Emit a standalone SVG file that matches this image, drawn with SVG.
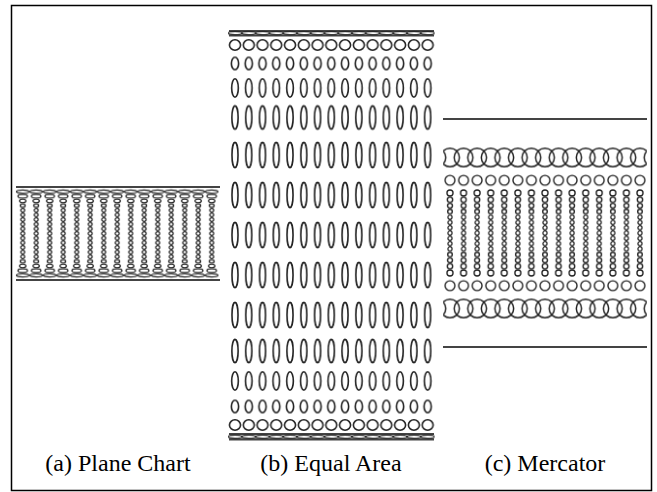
<svg xmlns="http://www.w3.org/2000/svg" width="657" height="492" viewBox="0 0 657 492">
<style>
.e{fill:none;stroke:#222}
.ea{stroke-width:1.2}
.eb{stroke-width:1.6}
.ec{stroke-width:1.35}
.ecb{stroke-width:1.5}
.ln{stroke:#444;stroke-width:2.2;fill:none}
.lbl{font-family:"Liberation Serif","Times New Roman","DejaVu Serif",serif;font-size:24px;text-anchor:middle;fill:#000}
</style>
<defs>
<!-- panel a -->
<pattern id="aS" patternUnits="userSpaceOnUse" x="15.95" y="207.925" width="13.5" height="4.65"><ellipse class="e ea" cx="6.75" cy="2.325" rx="2.0" ry="1.7"/></pattern>
<pattern id="a6" patternUnits="userSpaceOnUse" x="15.95" y="-5" width="13.5" height="10"><ellipse class="e ea" cx="6.75" cy="5" rx="2.5" ry="1.7"/></pattern>
<pattern id="a7" patternUnits="userSpaceOnUse" x="15.95" y="-5" width="13.5" height="10"><ellipse class="e ea" cx="6.75" cy="5" rx="3.2" ry="1.75"/></pattern>
<pattern id="a8" patternUnits="userSpaceOnUse" x="15.95" y="-5" width="13.5" height="10"><ellipse class="e ea" cx="6.75" cy="5" rx="4.8" ry="1.8"/></pattern>
<pattern id="a9" patternUnits="userSpaceOnUse" x="15.95" y="-5" width="13.5" height="10"><ellipse class="e ea" cx="6.75" cy="5" rx="6.3" ry="1.6"/><ellipse class="e ea" cx="-6.75" cy="5" rx="6.3" ry="1.6"/><ellipse class="e ea" cx="20.25" cy="5" rx="6.3" ry="1.6"/></pattern>
<!-- panel b -->
<pattern id="b0" patternUnits="userSpaceOnUse" x="228.12" y="135" width="13.76" height="40"><ellipse class="e eb" cx="6.88" cy="20" rx="3.0" ry="12.6"/></pattern>
<pattern id="b3" patternUnits="userSpaceOnUse" x="228.12" y="-15" width="13.76" height="30"><ellipse class="e eb" cx="6.88" cy="15" rx="3.1" ry="11.6"/></pattern>
<pattern id="b4" patternUnits="userSpaceOnUse" x="228.12" y="-15" width="13.76" height="30"><ellipse class="e eb" cx="6.88" cy="15" rx="3.3" ry="9.2"/></pattern>
<pattern id="b5" patternUnits="userSpaceOnUse" x="228.12" y="-15" width="13.76" height="30"><ellipse class="e eb" cx="6.88" cy="15" rx="3.6" ry="6.2"/></pattern>
<pattern id="b6" patternUnits="userSpaceOnUse" x="228.12" y="-15" width="13.76" height="30"><ellipse class="e eb" cx="6.88" cy="15" rx="5.5" ry="5.2"/></pattern>
<pattern id="b9" patternUnits="userSpaceOnUse" x="228.12" y="-5" width="13.76" height="10"><ellipse class="e ea" cx="6.88" cy="5" rx="6.8" ry="1.6"/><ellipse class="e ea" cx="-6.88" cy="5" rx="6.8" ry="1.6"/><ellipse class="e ea" cx="20.64" cy="5" rx="6.8" ry="1.6"/></pattern>
<!-- panel c -->
<pattern id="cS" patternUnits="userSpaceOnUse" x="443.215" y="214.45" width="13.57" height="5.3"><ellipse class="e ea" cx="6.785" cy="2.65" rx="2.05" ry="2.05"/></pattern>
<pattern id="c4" patternUnits="userSpaceOnUse" x="443.215" y="-6" width="13.57" height="12"><ellipse class="e ec" cx="6.785" cy="6" rx="2.3" ry="2.3"/></pattern>
<pattern id="c5" patternUnits="userSpaceOnUse" x="443.215" y="-6" width="13.57" height="12"><ellipse class="e ec" cx="6.785" cy="6" rx="2.45" ry="2.45"/></pattern>
<pattern id="c6" patternUnits="userSpaceOnUse" x="443.215" y="-6" width="13.57" height="12"><ellipse class="e ec" cx="6.785" cy="6" rx="2.65" ry="2.65"/></pattern>
<pattern id="c7" patternUnits="userSpaceOnUse" x="443.215" y="-6" width="13.57" height="12"><ellipse class="e ec" cx="6.785" cy="6" rx="3.0" ry="3.0"/></pattern>
<pattern id="c8" patternUnits="userSpaceOnUse" x="443.215" y="-8" width="13.57" height="16"><ellipse class="e ec" cx="6.785" cy="8" rx="4.9" ry="4.9"/></pattern>
<pattern id="c9" patternUnits="userSpaceOnUse" x="443.215" y="-12" width="13.57" height="24"><ellipse class="e ecb" cx="6.785" cy="12" rx="9.4" ry="9.2"/><ellipse class="e ecb" cx="-6.785" cy="12" rx="9.4" ry="9.2"/><ellipse class="e ecb" cx="20.355" cy="12" rx="9.4" ry="9.2"/></pattern>
</defs>

<rect id="frame" x="11.5" y="5.5" width="640" height="485" fill="#fff" stroke="#000" stroke-width="1.5"/>

<g id="panel-a">
<line class="ln" x1="16" y1="187" x2="220" y2="187"/>
<line class="ln" x1="16" y1="280" x2="220" y2="280"/>
<rect x="15.95" y="-5" width="202.5" height="10" fill="url(#a9)" transform="translate(0,191.65)"/>
<rect x="15.95" y="-5" width="202.5" height="10" fill="url(#a9)" transform="translate(0,275.35)"/>
<rect x="15.95" y="-5" width="202.5" height="10" fill="url(#a8)" transform="translate(0,196.3)"/>
<rect x="15.95" y="-5" width="202.5" height="10" fill="url(#a8)" transform="translate(0,270.7)"/>
<rect x="15.95" y="-5" width="202.5" height="10" fill="url(#a7)" transform="translate(0,200.95)"/>
<rect x="15.95" y="-5" width="202.5" height="10" fill="url(#a7)" transform="translate(0,266.05)"/>
<rect x="15.95" y="-5" width="202.5" height="10" fill="url(#a6)" transform="translate(0,205.6)"/>
<rect x="15.95" y="-5" width="202.5" height="10" fill="url(#a6)" transform="translate(0,261.4)"/>
<rect x="15.95" y="207.925" width="202.5" height="51.15" fill="url(#aS)"/>
</g>

<g id="panel-b">
<line class="ln" x1="229" y1="31" x2="434" y2="31"/>
<line class="ln" x1="229" y1="35.5" x2="434" y2="35.5"/>
<line class="ln" x1="229" y1="434" x2="434" y2="434"/>
<line class="ln" x1="229" y1="439.3" x2="434" y2="439.3"/>
<rect x="228.12" y="-5" width="206.4" height="10" fill="url(#b9)" transform="translate(0,33.2)"/>
<rect x="228.12" y="-5" width="206.4" height="10" fill="url(#b9)" transform="translate(0,436.7)"/>
<rect x="228.12" y="-15" width="206.4" height="30" fill="url(#b6)" transform="translate(0,45)"/>
<rect x="228.12" y="-15" width="206.4" height="30" fill="url(#b6)" transform="translate(0,425)"/>
<rect x="228.12" y="-15" width="206.4" height="30" fill="url(#b5)" transform="translate(0,63.5)"/>
<rect x="228.12" y="-15" width="206.4" height="30" fill="url(#b5)" transform="translate(0,406.5)"/>
<rect x="228.12" y="-15" width="206.4" height="30" fill="url(#b4)" transform="translate(0,88)"/>
<rect x="228.12" y="-15" width="206.4" height="30" fill="url(#b4)" transform="translate(0,381)"/>
<rect x="228.12" y="-15" width="206.4" height="30" fill="url(#b3)" transform="translate(0,117.5)"/>
<rect x="228.12" y="-15" width="206.4" height="30" fill="url(#b3)" transform="translate(0,351)"/>
<rect x="228.12" y="135" width="206.4" height="200" fill="url(#b0)"/>
</g>

<g id="panel-c">
<line class="ln" x1="443" y1="119" x2="647" y2="119"/>
<line class="ln" x1="443" y1="347" x2="647" y2="347"/>
<rect x="443.215" y="-12" width="203.55" height="24" fill="url(#c9)" transform="translate(0,157.5)"/>
<rect x="443.215" y="-12" width="203.55" height="24" fill="url(#c9)" transform="translate(0,308.5)"/>
<rect x="443.215" y="-8" width="203.55" height="16" fill="url(#c8)" transform="translate(0,180.3)"/>
<rect x="443.215" y="-8" width="203.55" height="16" fill="url(#c8)" transform="translate(0,285.7)"/>
<rect x="443.215" y="-6" width="203.55" height="12" fill="url(#c7)" transform="translate(0,193)"/>
<rect x="443.215" y="-6" width="203.55" height="12" fill="url(#c7)" transform="translate(0,273)"/>
<rect x="443.215" y="-6" width="203.55" height="12" fill="url(#c6)" transform="translate(0,199.7)"/>
<rect x="443.215" y="-6" width="203.55" height="12" fill="url(#c6)" transform="translate(0,266.3)"/>
<rect x="443.215" y="-6" width="203.55" height="12" fill="url(#c5)" transform="translate(0,205.7)"/>
<rect x="443.215" y="-6" width="203.55" height="12" fill="url(#c5)" transform="translate(0,260.3)"/>
<rect x="443.215" y="-6" width="203.55" height="12" fill="url(#c4)" transform="translate(0,211.5)"/>
<rect x="443.215" y="-6" width="203.55" height="12" fill="url(#c4)" transform="translate(0,254.5)"/>
<rect x="443.215" y="214.45" width="203.55" height="37.1" fill="url(#cS)"/>
</g>

<g id="labels" font-family="Liberation Serif, Times New Roman, DejaVu Serif, serif">
<text class="lbl" x="118" y="471">(a) Plane Chart</text>
<text class="lbl" x="331" y="471">(b) Equal Area</text>
<text class="lbl" x="545" y="471">(c) Mercator</text>
</g>
</svg>
